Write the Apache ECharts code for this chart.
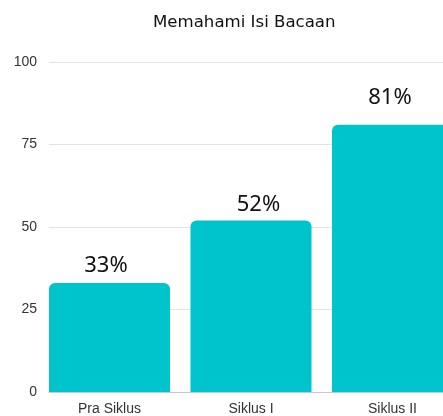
<!DOCTYPE html>
<html style="height: 100%">
<head>
    <meta charset="utf-8">
    <script src="https://cdn.jsdelivr.net/npm/echarts@6/dist/echarts.min.js"></script>
</head>
<body style="height: 100%; margin: 0; background: #fff">
    <div id="chart" style="width: 443px; height: 416px"></div>
    <script type="text/javascript">
        var titleText = 'Memahami Isi Bacaan';
        var categories = ['Pra Siklus', 'Siklus I', 'Siklus II'];
        var values = [33, 52, 81];
        var yTicks = [0, 25, 50, 75, 100];

        // the value labels in the original sit a little off-centre
        var labelShift = [[-3.5, 0], [7.5, 1], [-2.5, -10]];

        var myChart = echarts.init(document.getElementById('chart'));
        myChart.setOption({
            animation: false,
            title: {
                text: titleText,
                left: 148,
                top: 9,
                textStyle: {
                    fontFamily: 'DejaVu Sans',
                    fontSize: 16.6,
                    fontWeight: 'normal',
                    color: '#111'
                }
            },
            // grid 0 carries the value scale and gridlines, grid 1 the bars
            // (the last bar runs past the right edge, as in the original)
            grid: [
                { left: 49, top: 62, right: 0, height: 330 },
                { left: 109.5, top: 62, width: 283, height: 330 }
            ],
            xAxis: [{
                gridIndex: 0,
                type: 'value',
                axisLabel: { show: false },
                axisTick: { show: false },
                splitLine: { show: false },
                axisLine: { show: true, lineStyle: { color: '#c8c8c8' } }
            }, {
                gridIndex: 1,
                type: 'category',
                data: categories,
                boundaryGap: false,
                axisLine: { show: false },
                axisTick: { show: false },
                axisLabel: {
                    margin: 10,
                    fontFamily: 'Liberation Sans',
                    fontSize: 14,
                    color: '#333'
                }
            }],
            yAxis: [{
                gridIndex: 0,
                type: 'value',
                min: yTicks[0],
                max: yTicks[yTicks.length - 1],
                interval: 25,
                axisLine: { show: false },
                axisTick: { show: false },
                axisLabel: {
                    margin: 12,
                    fontFamily: 'Liberation Sans',
                    fontSize: 14,
                    color: '#333'
                },
                splitLine: { lineStyle: { color: '#e3e3e3' } }
            }, {
                gridIndex: 1,
                type: 'value',
                min: yTicks[0],
                max: yTicks[yTicks.length - 1],
                show: false
            }],
            series: [{
                type: 'bar',
                xAxisIndex: 1,
                yAxisIndex: 1,
                barWidth: 121,
                clip: false,
                data: values.map(function (v, i) {
                    return { value: v, label: { offset: labelShift[i] } };
                }),
                itemStyle: {
                    color: '#00c4cc',
                    borderRadius: [6, 6, 0, 0]
                },
                label: {
                    show: true,
                    position: 'top',
                    distance: 6,
                    formatter: '{c}%',
                    fontFamily: 'Noto Sans',
                    fontSize: 22,
                    color: '#111'
                }
            }]
        });
    </script>
</body>
</html>
